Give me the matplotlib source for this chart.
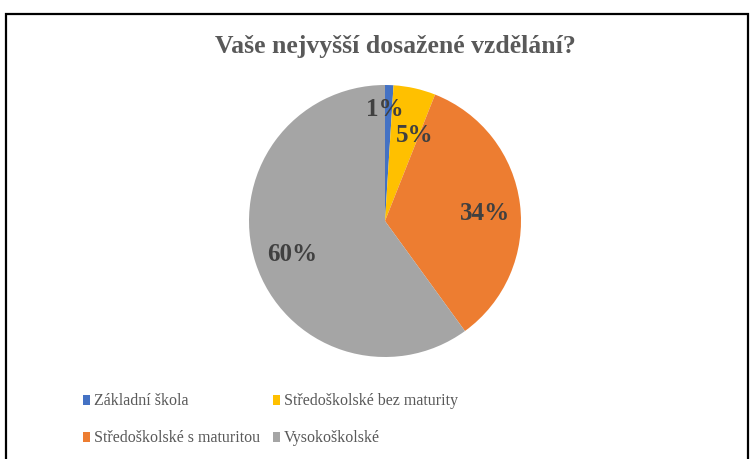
import matplotlib
matplotlib.use('Agg')
from matplotlib import pyplot as plt
from matplotlib.patches import Rectangle
import numpy as np

# data
labels = ['Základní škola', 'Středoškolské bez maturity',
          'Středoškolské s maturitou', 'Vysokoškolské']
values = [1, 5, 34, 60]
colors = ['#4472C4', '#FFC000', '#ED7D31', '#A5A5A5']

W, H = 751, 460
fig = plt.figure(figsize=(W/100, H/100), dpi=100)

# chart frame
fig.add_artist(Rectangle((6/W, -0.05), (748-6)/W, (H-15)/H + 0.05,
                         transform=fig.transFigure, fill=False,
                         edgecolor='black', lw=1.6))

fig.text(395/W, 1-46/H, 'Vaše nejvyšší dosažené vzdělání?',
         ha='center', va='center', fontsize=18.5, fontweight='bold',
         family='Liberation Serif', color='#595959')

ax = fig.add_axes([249/W, 1-358/H, 272/W, 272/H])
wedges, texts, autotexts = ax.pie(values, colors=colors, startangle=90,
                                  counterclock=False, autopct='%d%%',
                                  pctdistance=1.0, radius=1)
ax.set_xlim(-1, 1)
ax.set_ylim(-1, 1)

# label placement like Excel's best fit (distance, dx, dy)
place = [(0.85, -0.025, -0.02), (0.69, 0.07, -0.035),
         (0.73, 0.015, -0.03), (0.72, 0.0, -0.015)]
for t, (d, dx, dy) in zip(autotexts, place):
    x, y = t.get_position()
    t.set_position((x*d + dx, y*d + dy))
    t.set_family('Liberation Serif')
    t.set_fontweight('bold')
    t.set_fontsize(18)
    t.set_color('#404040')

# legend, filled row by row
col_x = [83, 273]
row_y = [401, 438]
for i, (lab, c) in enumerate(zip(labels, colors)):
    px = col_x[i % 2]
    py = row_y[i // 2]
    fig.add_artist(Rectangle((px/W, 1-(py+5)/H), 7/W, 10/H,
                             transform=fig.transFigure, facecolor=c,
                             edgecolor='none'))
    fig.text((px+11)/W, 1-py/H, lab, ha='left', va='center',
             fontsize=11.5, family='Liberation Serif', color='#595959')

fig.savefig('out.png', dpi=100)
